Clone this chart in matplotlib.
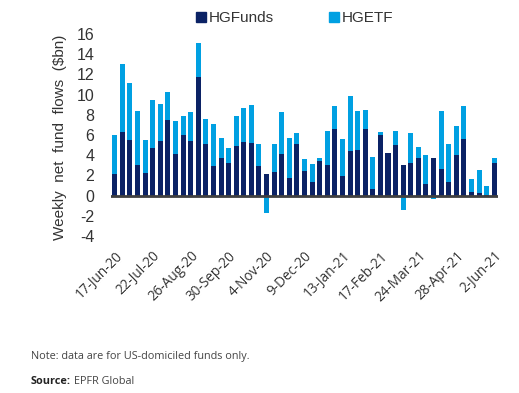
import matplotlib
matplotlib.use("Agg")
import matplotlib.pyplot as plt
from matplotlib.patches import Patch
import numpy as np

weeks = list(range(51))
hg_funds = [2.15, 6.26, 5.53, 3.05, 2.22, 4.70, 5.43, 7.52, 4.14, 5.99,
            5.43, 11.79, 5.10, 2.95, 3.74, 3.25, 4.93, 5.30, 5.23, 2.95,
            2.12, 2.38, 4.11, 1.75, 5.07, 2.42, 1.36, 3.44, 3.01, 6.59,
            1.95, 4.44, 4.54, 6.62, 0.63, 6.03, 4.17, 5.03, 3.01, 3.25,
            3.74, 1.16, 3.68, 2.62, 1.36, 4.04, 5.63, 0.33, 0.23, 0.07, 3.21]
hg_etf = [3.88, 6.72, 5.60, 5.36, 3.24, 4.80, 3.68, 2.71, 3.21, 1.86,
          2.82, 3.31, 2.45, 4.14, 1.92, 1.45, 2.92, 3.41, 3.71, 2.12,
          -1.69, 2.69, 4.20, 3.95, 1.16, 1.19, 1.72, 0.33, 3.41, 2.25,
          3.68, 5.46, 3.87, 1.82, 3.24, 0.23, 0.0, 1.33, -1.42, 2.94,
          1.03, 2.88, -0.33, 5.79, 3.74, 2.88, 3.24, 1.36, 2.32, 0.86, 0.47]
tick_labels = ["17-Jun-20", "22-Jul-20", "26-Aug-20", "30-Sep-20", "4-Nov-20",
               "9-Dec-20", "13-Jan-21", "17-Feb-21", "24-Mar-21", "28-Apr-21",
               "2-Jun-21"]
y_ticks = [-4, -2, 0, 2, 4, 6, 8, 10, 12, 14, 16]

navy = "#0b2265"
light = "#00a0e2"

fig = plt.figure(figsize=(5.19, 3.93), dpi=100)
ax = fig.add_axes([0.2139, 0.3995, 0.7457, 0.514])

f = np.array(hg_funds)
e = np.array(hg_etf)
etf_bottom = np.where(e >= 0, f, 0)
w = 0.66
ax.bar(weeks, f, width=w, color=navy, zorder=2)
ax.bar(weeks, e, width=w, bottom=etf_bottom, color=light, zorder=2)
ax.axhline(0, color="#404040", lw=2, zorder=3)

ax.set_xlim(-0.5, 50.5)
ax.set_ylim(-4, 16)
ax.set_yticks(y_ticks)
ax.set_yticklabels([str(t) for t in y_ticks], fontfamily="Liberation Sans",
                   fontsize=11.5, color="#333333")
ax.set_xticks(weeks[::5])
ax.set_xticklabels(tick_labels, rotation=45, ha="right", rotation_mode="anchor",
                   fontfamily="Open Sans", fontsize=9.8, color="#333333")
ax.tick_params(axis="both", length=0)
ax.tick_params(axis="y", pad=12)
ax.tick_params(axis="x", pad=9)
for s in ax.spines.values():
    s.set_visible(False)

fig.text(60 / 519, 0.650, "Weekly  net  fund  flows  ($bn)", rotation=90,
         ha="center", va="center", fontfamily="Liberation Sans", fontsize=11,
         color="#333333")

handles = [Patch(color=navy, label="HGFunds"), Patch(color=light, label="HGETF")]
fig.legend(handles=handles, loc="center", bbox_to_anchor=(0.568, 0.954), ncol=2,
           frameon=False, prop={"family": "Liberation Sans", "size": 11},
           handlelength=0.65, handleheight=0.65, handletextpad=0.2,
           columnspacing=3.6, labelcolor="#333333")

fig.text(31 / 519, 1 - 357 / 393, "Note: data are for US-domiciled funds only.",
         ha="left", va="center", fontfamily="Open Sans", fontsize=7.8,
         color="#444444")
t1 = fig.text(31 / 519, 1 - 381 / 393, "Source:", ha="left", va="center",
              fontfamily="Open Sans", fontsize=7.8, fontweight="bold",
              color="#222222")
fig.canvas.draw()
bb = t1.get_window_extent()
x2 = (bb.x1 + 3) / fig.bbox.width
fig.text(x2, 1 - 381 / 393, "EPFR Global", ha="left", va="center",
         fontfamily="Open Sans", fontsize=7.8, color="#444444")

fig.savefig("out.png", dpi=100)
